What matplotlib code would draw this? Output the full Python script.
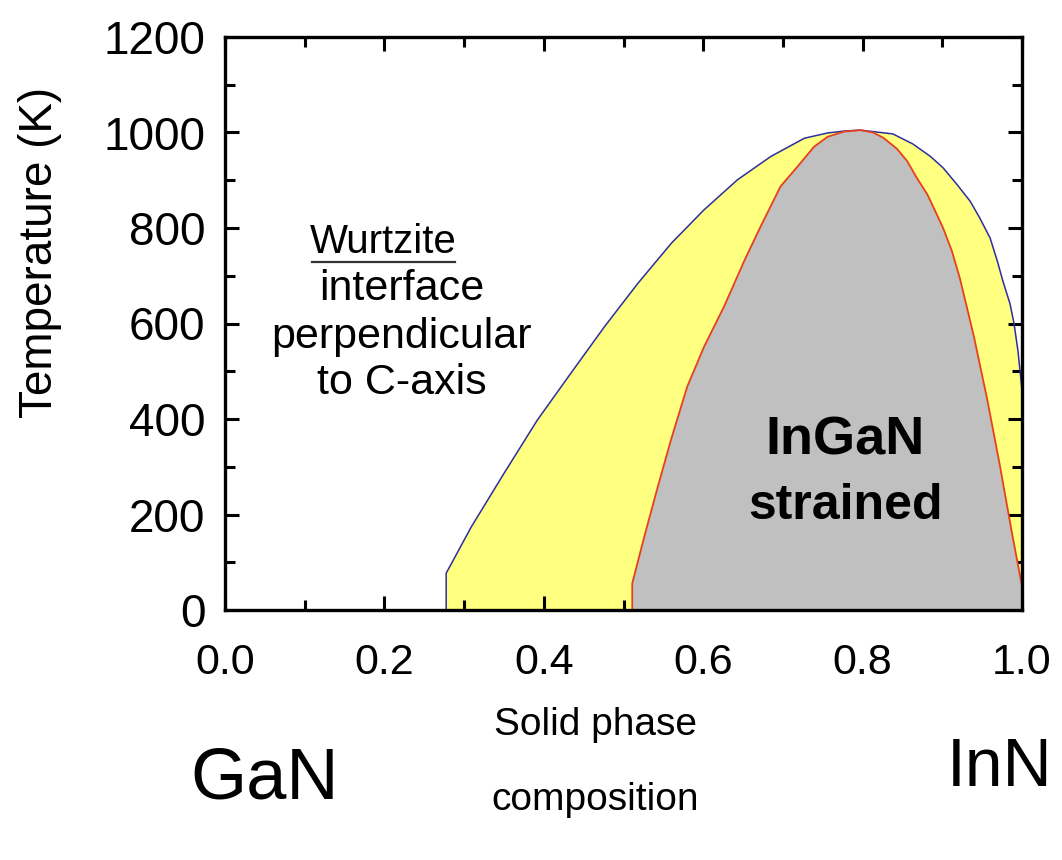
import matplotlib
matplotlib.use("Agg")
import matplotlib.pyplot as plt
from matplotlib.lines import Line2D
from matplotlib.ticker import MultipleLocator

plt.rcParams['font.family'] = ['Liberation Sans', 'DejaVu Sans']

# Binodal (blue) boundary: composition x, temperature T (K)
binodal_x = [0.2775, 0.2775, 0.309, 0.350, 0.392, 0.434, 0.476, 0.518, 0.560, 0.601,
             0.643, 0.685, 0.727, 0.756, 0.777, 0.797, 0.838, 0.863, 0.885, 0.901,
             0.918, 0.935, 0.947, 0.960, 0.969, 0.976, 0.985, 0.990, 0.995, 1.0, 1.0]
binodal_T = [0, 77, 174, 286, 398, 496, 593, 684, 768, 838,
             901, 950, 988, 999, 1003, 1005, 997, 976, 950, 926,
             892, 856, 821, 779, 731, 689, 641, 600, 542, 460, 0]

# Spinodal (red) boundary
spinodal_x = [0.511, 0.511, 0.526, 0.543, 0.5595, 0.580, 0.601, 0.626, 0.652, 0.672,
              0.697, 0.718, 0.739, 0.756, 0.777, 0.797, 0.813, 0.826, 0.843, 0.856,
              0.868, 0.881, 0.891, 0.901, 0.912, 0.922, 0.932, 0.940, 0.956, 0.972,
              0.987, 1.0, 1.0]
spinodal_T = [0, 56, 153, 258, 356, 468, 551, 635, 733, 803,
              887, 928, 970, 991, 1002, 1005, 1000, 989, 966, 940,
              905, 871, 836, 800, 752, 695, 626, 570, 444, 305,
              165, 50, 0]

x_ticks = [0.0, 0.2, 0.4, 0.6, 0.8, 1.0]
x_ticklabels = ['0.0', '0.2', '0.4', '0.6', '0.8', '1.0']
y_ticks = [0, 200, 400, 600, 800, 1000, 1200]
y_ticklabels = ['0', '200', '400', '600', '800', '1000', '1200']

W, H = 1062, 860
fig = plt.figure(figsize=(W / 100, H / 100), dpi=100)
ax = fig.add_axes([225 / W, 1 - 610 / H, (1022 - 225) / W, (610 - 37) / H])

ax.fill(binodal_x, binodal_T, color='#FFFF80', lw=0, zorder=1)
ax.fill(spinodal_x, spinodal_T, color='#C0C0C0', lw=0, zorder=2)
ax.plot(binodal_x, binodal_T, color='#2E2E9E', lw=1.1, zorder=3)
ax.plot(spinodal_x, spinodal_T, color='#E8401C', lw=1.3, zorder=4)

ax.set_xlim(0, 1)
ax.set_ylim(0, 1200)
ax.set_xticks(x_ticks)
ax.set_xticklabels(x_ticklabels)
ax.set_yticks(y_ticks)
ax.set_yticklabels(y_ticklabels)
ax.xaxis.set_minor_locator(MultipleLocator(0.1))
ax.yaxis.set_minor_locator(MultipleLocator(100))
ax.tick_params(which='both', direction='in', top=True, right=True, width=2.2)
ax.tick_params(which='major', length=10)
ax.tick_params(which='minor', length=7)
ax.tick_params(axis='x', which='major', labelsize=31, pad=24)
ax.tick_params(axis='y', which='major', labelsize=33, pad=14)
for s in ax.spines.values():
    s.set_linewidth(2.4)
    s.set_zorder(10)

# Annotations inside the plot
ax.text(0.199, 770, 'Wurtzite', fontsize=29, ha='center', va='center')
fig.add_artist(Line2D([312 / W, 455 / W], [1 - 262 / H, 1 - 262 / H],
                      color='#333333', lw=1.6))
ax.text(0.222, 672, 'interface', fontsize=31, ha='center', va='center')
ax.text(0.222, 572, 'perpendicular', fontsize=31, ha='center', va='center')
ax.text(0.222, 475, 'to C-axis', fontsize=31, ha='center', va='center')
ax.text(0.778, 355, 'InGaN', fontsize=39, fontweight='bold', ha='center', va='center')
ax.text(0.778, 218, 'strained', fontsize=36, fontweight='bold', ha='center', va='center')

# Labels outside the axes
fig.text(40 / W, 1 - 252 / H, 'Temperature (K)', fontsize=33, rotation=90,
         ha='center', va='center')
fig.text(265 / W, 1 - 780 / H, 'GaN', fontsize=52, ha='center', va='center')
fig.text(1000 / W, 1 - 768 / H, 'InN', fontsize=49, ha='center', va='center')
fig.text(595 / W, 1 - 725 / H, 'Solid phase', fontsize=28, ha='center', va='center')
fig.text(595 / W, 1 - 800 / H, 'composition', fontsize=28, ha='center', va='center')

fig.savefig('out.png', dpi=100, facecolor='white')
